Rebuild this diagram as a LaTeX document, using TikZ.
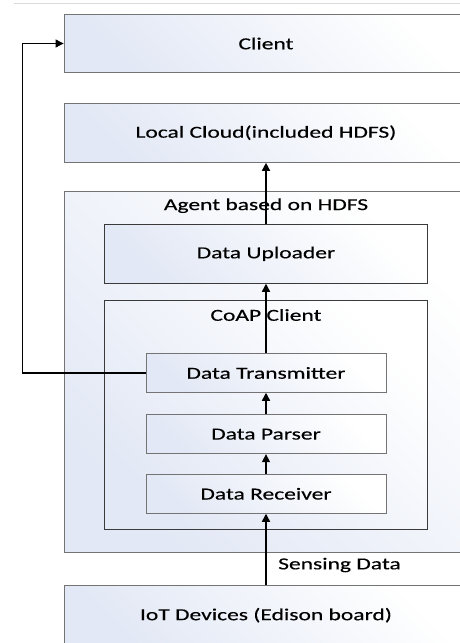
\documentclass[tikz,border=0pt]{standalone}
\usepackage{fontspec}
\setmainfont{Carlito}[FakeStretch=1.40, FakeBold=0.35]
\usetikzlibrary{arrows.meta}
\definecolor{boxblue}{HTML}{E2E8F5}
\definecolor{boxline}{HTML}{747474}
\definecolor{darkline}{HTML}{3A3A3A}
\definecolor{topline}{HTML}{D9D9D9}
\begin{document}
\begin{tikzpicture}[x=1pt,y=-1pt,
  box/.style={draw=boxline, line width=0.9pt, left color=boxblue, right color=white,
    shading angle=135, inner sep=0pt, font=\fontsize{16.8}{18}\selectfont},
  titletext/.style={inner sep=0pt, font=\fontsize{16.8}{18}\selectfont},
  flow/.style={line width=1.4pt, -{Triangle[length=8pt,width=8pt]}},
  loopflow/.style={line width=1.1pt, -{Triangle[length=8pt,width=8pt]}}]
\useasboundingbox (0,0) rectangle (460,643);
\clip (0,0) rectangle (460,643);
\fill[white] (0,0) rectangle (460,643);
\draw[topline, line width=1pt] (14,3.3) -- (460,3.3);
% outer boxes
\node[box, minimum width=404pt, minimum height=58.4pt] (client) at (266,43.5) {Client};
\node[box, minimum width=404pt, minimum height=59.3pt] (cloud) at (266,132.7) {Local Cloud(included HDFS)};
\node[box, minimum width=404pt, minimum height=361pt] (agent) at (266,372.2) {};
\node[titletext] (agenttitle) at (266,205.7) {Agent based on HDFS};
\node[box, draw=darkline, minimum width=323.4pt, minimum height=59pt] (upl) at (266,253.8) {Data Uploader};
\node[box, draw=darkline, minimum width=323.4pt, minimum height=228.6pt] (coap) at (266,415) {};
\node[titletext] (coaptitle) at (266,315) {CoAP Client};
\node[box, minimum width=240pt, minimum height=38.6pt] (trans) at (266,373) {Data Transmitter};
\node[box, minimum width=240pt, minimum height=39pt] (parser) at (266,434.2) {Data Parser};
\node[box, minimum width=240pt, minimum height=39pt] (recv) at (266,493.8) {Data Receiver};
\node[box, minimum width=404pt, minimum height=59pt] (iot) at (266,615.2) {IoT Devices (Edison board)};
\node[titletext, anchor=west] (sensing) at (278,565) {Sensing Data};
% connectors
\coordinate (bend) at (22.3,0);
\draw[flow] (iot.north) -- (recv.south);
\draw[flow] (recv.north) -- (parser.south);
\draw[flow] (parser.north) -- (trans.south);
\draw[flow] (trans.north) -- (upl.south);
\draw[flow] (upl.north) -- (cloud.south);
\draw[loopflow] (trans.west) -- (trans.west -| bend) |- (client.west);
\end{tikzpicture}
\end{document}
